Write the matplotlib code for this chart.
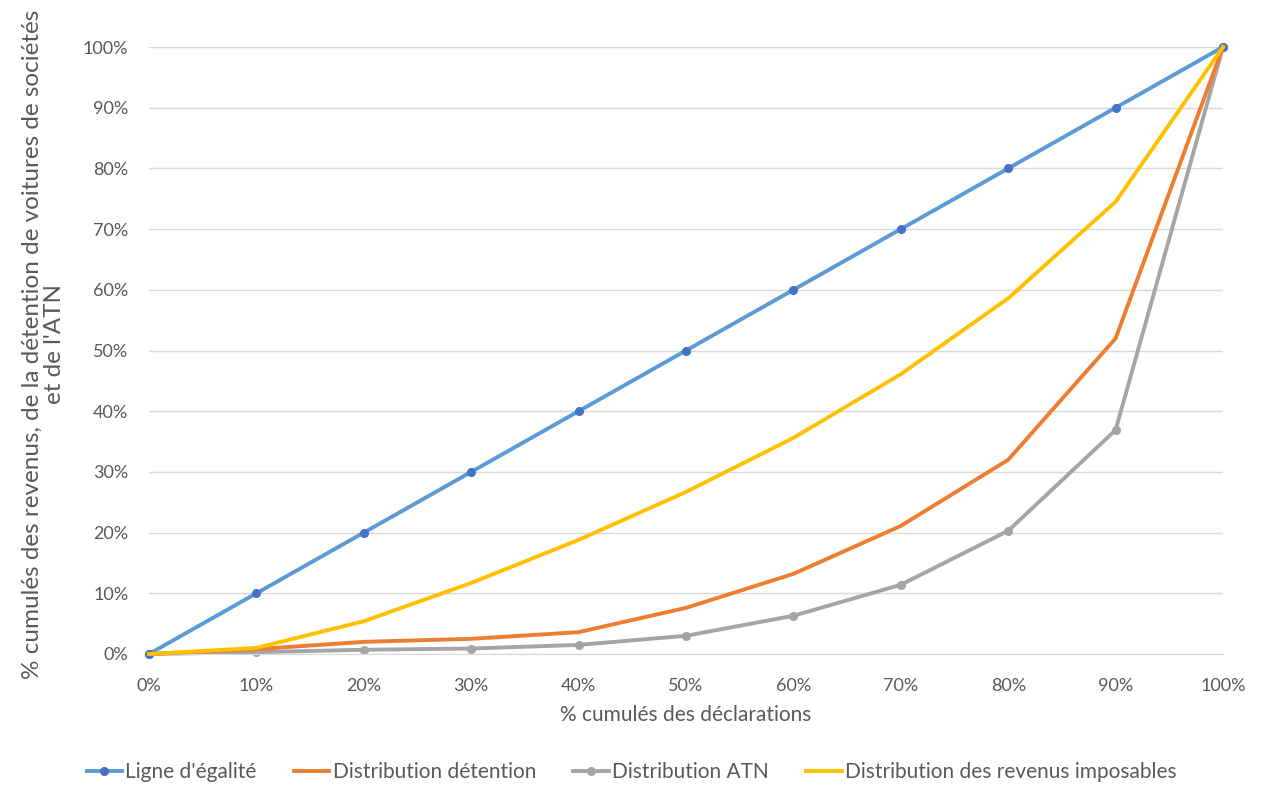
import numpy as np
from matplotlib import pyplot as plt
from matplotlib.ticker import PercentFormatter

# cumulative share of declarations (x) and cumulative shares (y), in %
deciles = [0, 10, 20, 30, 40, 50, 60, 70, 80, 90, 100]
egalite = [0, 10, 20, 30, 40, 50, 60, 70, 80, 90, 100]
detention = [0, 0.8, 2.0, 2.5, 3.6, 7.6, 13.2, 21.1, 32.0, 52.0, 100]
atn = [0, 0.3, 0.7, 0.9, 1.5, 3.0, 6.3, 11.4, 20.3, 36.9, 100]
revenus = [0, 1.0, 5.4, 11.7, 18.8, 26.7, 35.6, 46.1, 58.6, 74.5, 100]

plt.rcParams['font.family'] = ['Lato', 'DejaVu Sans']
txt = '#595959'

fig = plt.figure(figsize=(12.63, 7.87), dpi=100)
ax = fig.add_axes([149 / 1263, 1 - 654 / 787, (1223 - 149) / 1263, (654 - 47) / 787])

ax.plot(deciles, egalite, color='#5B9BD5', lw=2.8, marker='o', ms=5.5,
        mfc='#4472C4', mec='#4472C4', label="Ligne d'égalité", zorder=3)
ax.plot(deciles, detention, color='#ED7D31', lw=2.8, label='Distribution détention', zorder=3)
ax.plot(deciles, atn, color='#A5A5A5', lw=2.8, marker='o', ms=5.5,
        mfc='#A5A5A5', mec='#A5A5A5', label='Distribution ATN', zorder=2)
ax.plot(deciles, revenus, color='#FFC000', lw=2.8, label='Distribution des revenus imposables', zorder=4)

ax.set_xlim(0, 100)
ax.set_ylim(0, 100)
ax.set_xticks(deciles)
ax.set_yticks(range(0, 101, 10))
ax.xaxis.set_major_formatter(PercentFormatter(decimals=0))
ax.yaxis.set_major_formatter(PercentFormatter(decimals=0))
ax.tick_params(length=0, labelsize=13, labelcolor=txt)
ax.tick_params(axis='x', pad=17)
ax.tick_params(axis='y', pad=15)
ax.grid(axis='y', color='#D9D9D9', lw=1)
ax.set_axisbelow(True)
for s in ax.spines.values():
    s.set_visible(False)
ax.spines['bottom'].set_visible(True)
ax.spines['bottom'].set_color('#D9D9D9')
for line in ax.lines:
    line.set_clip_on(False)

ax.set_xlabel('% cumulés des déclarations', fontsize=15, color=txt, labelpad=8)
ax.set_ylabel("% cumulés des revenus, de la détention de voitures de sociétés\net de l'ATN",
              fontsize=17.5, color=txt, linespacing=1.07)
ax.yaxis.set_label_coords(-0.078, 0.51)

fig.legend(loc='center', ncol=4, frameon=False, fontsize=15,
           bbox_to_anchor=(0.5, 1 - 772 / 787), handlelength=1.7, handletextpad=0.15,
           columnspacing=1.8, labelcolor=txt)

fig.savefig('out.png', dpi=100)
